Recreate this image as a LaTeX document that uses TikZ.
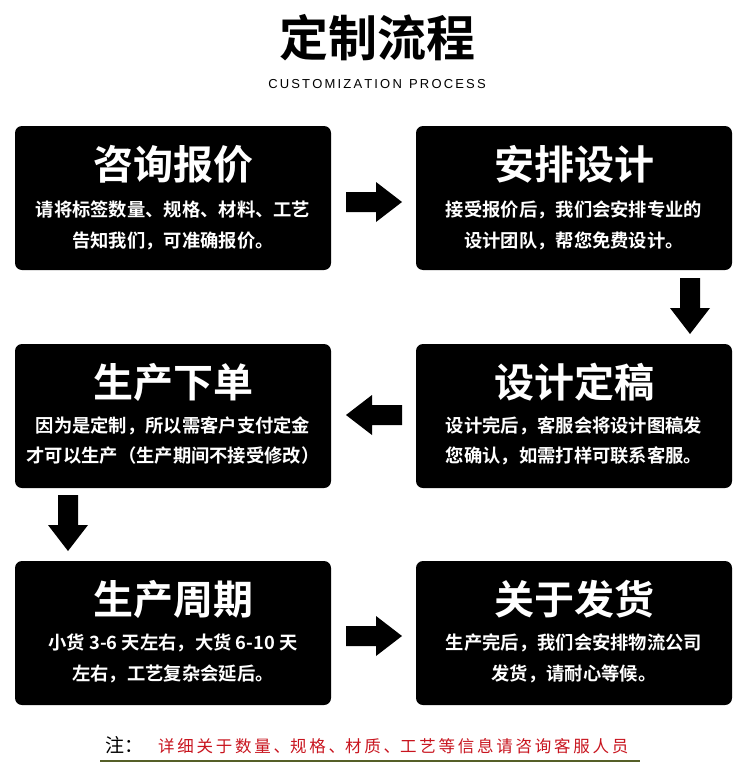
\documentclass[tikz,border=0pt]{standalone}
\usepackage{fontspec}
\setmainfont{Noto Sans CJK SC}
\newfontfamily\cjkb{Noto Sans CJK SC Bold}
\newfontfamily\lat{Liberation Sans}
\definecolor{fred}{RGB}{200,20,30}
\definecolor{fline}{RGB}{85,95,40}
\begin{document}
\begin{tikzpicture}[x=1pt,y=-1pt,
 box/.style={fill=black,rounded corners=7pt},
 ttl/.style={text=white,font=\cjkb\fontsize{40}{40}\selectfont,inner sep=0},
 body/.style={text=white,font=\cjkb\fontsize{18.3}{18}\selectfont,inner sep=0},
 arr/.pic={\fill[black] (-28,-10)--(2,-10)--(2,-20)--(28,0)--(2,20)--(2,10)--(-28,10)--cycle;}]
\useasboundingbox (0,0) rectangle (750,779);
\node[font=\cjkb\fontsize{49}{49}\selectfont,inner sep=0] (t) at (377,38) {定制流程};
\node[font=\lat\fontsize{13}{13}\selectfont,inner sep=0] (st) at (377,84) {C\,U\,S\,T\,O\,M\,I\,Z\,A\,T\,I\,O\,N\ \ P\,R\,O\,C\,E\,S\,S};
\foreach \n/\x/\y in {a/15/126,b/416/126,c/416/344,d/15/344,e/15/561,f/416/561}
  \fill[box] (\x,\y) rectangle ++(316,144);
\node[ttl] (a1) at (173,164) {咨询报价};
\node[body] (a2) at (173,210) {请将标签数量、规格、材料、工艺};
\node[body] (a3) at (173,241) {告知我们，可准确报价。};
\node[ttl] (b1) at (574,164) {安排设计};
\node[body] (b2) at (574,210) {接受报价后，我们会安排专业的};
\node[body] (b3) at (574,241) {设计团队，帮您免费设计。};
\node[ttl] (c1) at (574,382) {设计定稿};
\node[body] (c2) at (574,426) {设计完后，客服会将设计图稿发};
\node[body] (c3) at (574,456) {您确认，如需打样可联系客服。};
\node[ttl] (d1) at (173,382) {生产下单};
\node[body] (d2) at (173,426) {因为是定制，所以需客户支付定金};
\node[body] (d3) at (173,456) {才可以生产（生产期间不接受修改）};
\node[ttl] (e1) at (173,599) {生产周期};
\node[body] (e2) at (173,643) {小货 3-6 天左右，大货 6-10 天};
\node[body] (e3) at (173,674) {左右，工艺复杂会延后。};
\node[ttl] (f1) at (574,599) {关于发货};
\node[body] (f2) at (574,643) {生产完后，我们会安排物流公司};
\node[body] (f3) at (574,674) {发货，请耐心等候。};
\pic at (374,202) {arr};
\pic[rotate=-90] at (690,306) {arr};
\pic[rotate=180] at (374,415) {arr};
\pic[rotate=-90] at (68,523) {arr};
\pic at (374,636) {arr};
\node[anchor=west,font=\fontsize{19}{19}\selectfont,inner sep=0] (n1) at (105,745) {注：};
\node[anchor=west,text=fred,font=\fontsize{16.5}{16}\selectfont,inner sep=0] (n2) at (158,746) {详\,细\,关\,于\,数\,量\,、规\,格\,、材\,质\,、工\,艺\,等\,信\,息\,请\,咨\,询\,客\,服\,人\,员};
\draw[line width=1.2pt,fline] (100,761) -- (640,761);
\end{tikzpicture}
\end{document}
